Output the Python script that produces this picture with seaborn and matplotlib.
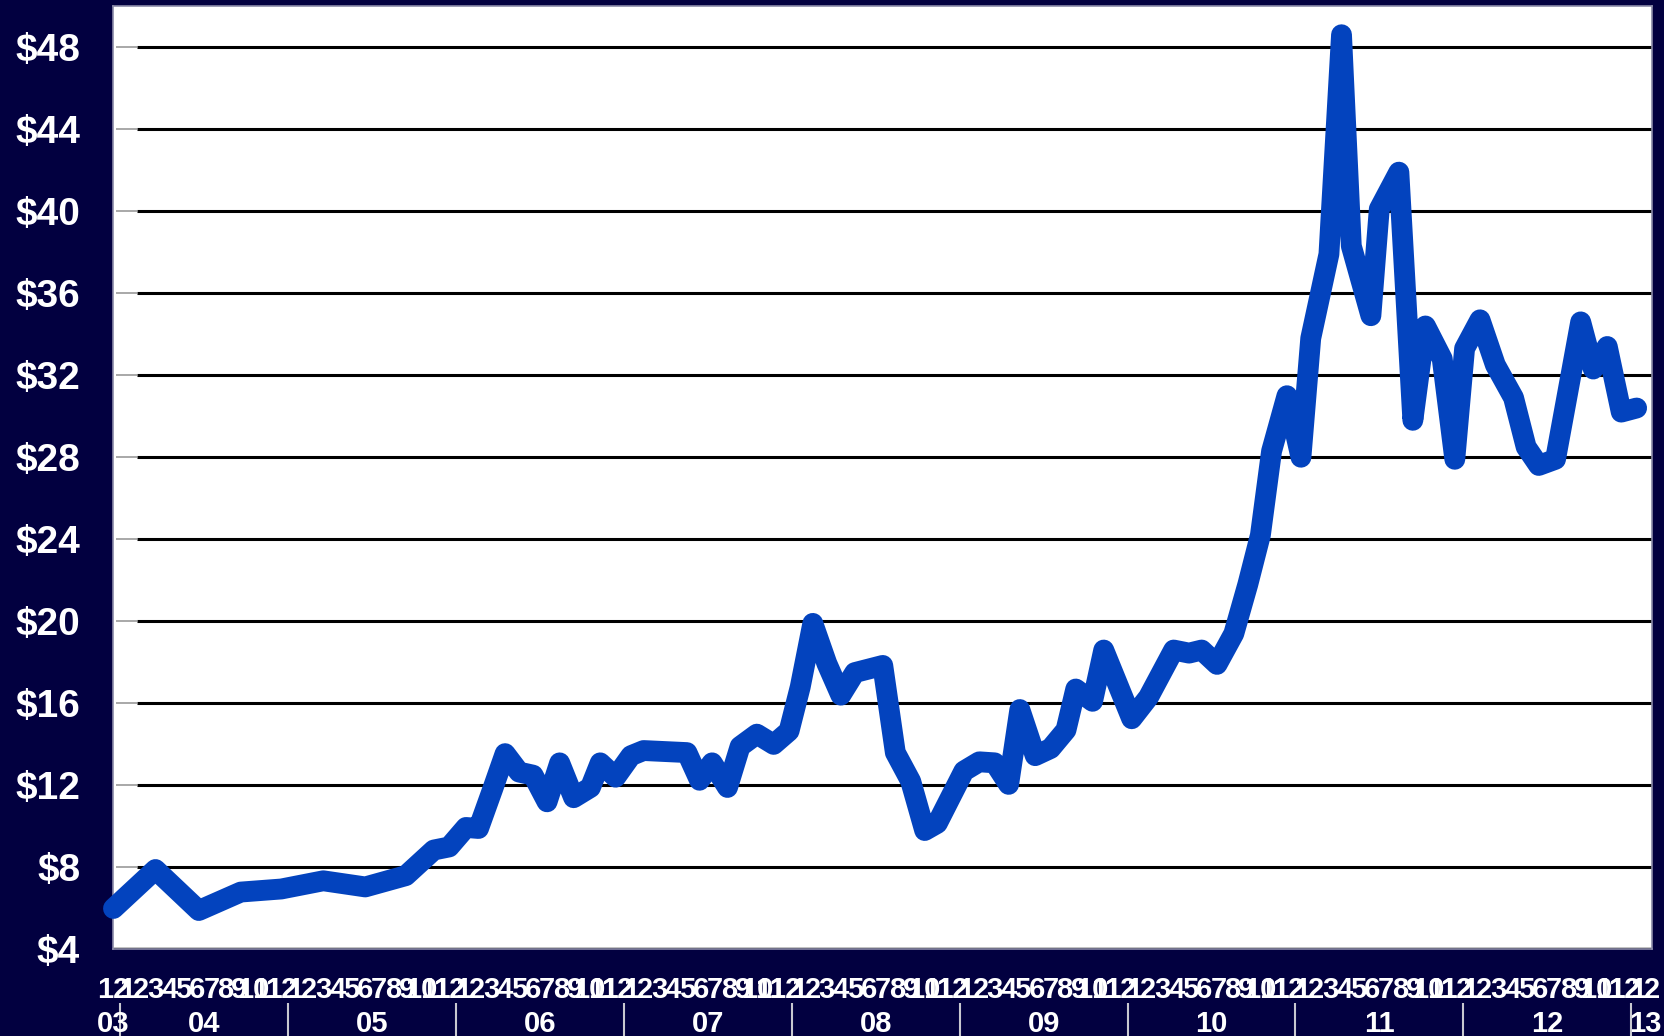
import seaborn as sns
import pandas as pd
import matplotlib.pyplot as plt
from matplotlib import transforms

sns.set_style("white")
plt.rcParams['font.family'] = ['Liberation Sans', 'DejaVu Sans']

# position in months counted from Dec 2003 (=0), price in dollars
month_pos = [0, 3, 6.1, 9.1, 12, 15, 18, 20.9, 22.9, 24, 25.2, 26.1, 27.1, 28, 29, 30,
             31, 31.9, 32.9, 34.1, 34.8, 35.9, 37, 37.9, 41, 41.9, 42.8, 43.9, 44.8, 46,
             47.2, 48.3, 49.1, 50, 51, 52, 53, 55, 55.9, 57, 58, 58.9, 60.8, 61.9, 63,
             64, 64.8, 65.9, 67, 68.1, 68.8, 70, 70.8, 72.8, 74, 75.8, 76.9, 77.8, 78.9,
             80.1, 81.1, 82, 82.8, 83.9, 84.9, 85.6, 86.9, 87.8, 88.5, 89.9, 90.5, 91.9,
             92.9, 93.8, 95, 95.9, 96.6, 97.7, 98.8, 100.1, 101, 101.9, 103.1, 104.9,
             105.8, 106.8, 107.8, 108.9]
price = [6.0, 7.9, 5.9, 6.8, 6.95, 7.35, 7.05, 7.6, 8.85, 9.0, 9.95, 9.9, 11.8, 13.55,
         12.65, 12.5, 11.2, 13.1, 11.4, 11.9, 13.1, 12.4, 13.45, 13.7, 13.6, 12.25, 13.1,
         11.9, 13.9, 14.5, 14.0, 14.65, 16.8, 19.9, 17.95, 16.4, 17.5, 17.85, 13.6, 12.2,
         9.8, 10.15, 12.7, 13.15, 13.1, 12.05, 15.7, 13.45, 13.8, 14.7, 16.7, 16.1, 18.6,
         15.25, 16.3, 18.6, 18.45, 18.6, 17.9, 19.4, 21.8, 24.2, 28.3, 31.0, 28.0, 33.8,
         37.9, 48.6, 38.3, 34.9, 40.1, 41.9, 29.8, 34.4, 32.8, 27.9, 33.3, 34.7, 32.5,
         30.9, 28.5, 27.6, 27.9, 34.6, 32.3, 33.4, 30.2, 30.4]

month_labels = ['12'] + [str(m) for m in range(1, 13)] * 9 + ['1', '2']
year_labels = ['03', '04', '05', '06', '07', '08', '09', '10', '11', '12', '13']
y_ticks = list(range(4, 49, 4))
y_labels = ['$' + str(v) for v in y_ticks]

BG = '#020040'
LINE = '#0343BE'
narrow = ['Liberation Sans Narrow', 'Liberation Sans']

fig = plt.figure(figsize=(16.64, 10.36), dpi=100)
fig.patch.set_facecolor(BG)
ax = fig.add_axes([0.0682, 0.0835, 0.9246, 0.9107])
ax.set_facecolor('white')

df = pd.DataFrame({'month': month_pos, 'price': price})

# grid lines (black, with a short grey start like the original)
ax.hlines(y_ticks[1:], 1.68, 110, color='black', lw=2.2, zorder=2)
ax.hlines(y_ticks[1:], 0.15, 1.68, color='#9a9a9a', lw=1.2, zorder=2)
ax.hlines(4, 0, 110, color='black', lw=2.5, zorder=2)

sns.lineplot(data=df, x='month', y='price', ax=ax, color=LINE, clip_on=False, zorder=5)
price_line = ax.lines[-1]
price_line.set_linewidth(15)
price_line.set_solid_capstyle('round')
price_line.set_solid_joinstyle('round')

ax.set_xlim(0, 110)
ax.set_ylim(4, 50)
ax.set_xlabel('')
ax.set_ylabel('')

ax.set_yticks(y_ticks)
ax.set_yticklabels(y_labels, fontsize=28, fontweight='bold', color='white')
ax.tick_params(axis='y', length=0, pad=24)

ax.set_xticks(range(len(month_labels)))
ax.set_xticklabels(month_labels, fontsize=21, fontweight='bold', color='white', family=narrow)
ax.tick_params(axis='x', direction='in', length=2.5, width=1.5, color='white', pad=19)

for s in ax.spines.values():
    s.set_color('#8a8aa8')
    s.set_linewidth(1.2)

# year labels and separators under the month labels
trans = transforms.blended_transform_factory(ax.transData, ax.transAxes)
year_pos = [0] + [6.5 + 12 * k for k in range(9)] + [109.5]
for xp, lab in zip(year_pos, year_labels):
    ax.text(xp, -0.0874, lab, transform=trans, ha='center', va='baseline',
            fontsize=21, fontweight='bold', color='white', family=narrow, clip_on=False)
sep_pos = [0.5 + 12 * k for k in range(10)]
ax.vlines(sep_pos, -0.0567, -0.1, transform=trans, color='#c8c8d0', lw=1.5, clip_on=False)

fig.savefig('out.png', dpi=100, facecolor=fig.get_facecolor())
